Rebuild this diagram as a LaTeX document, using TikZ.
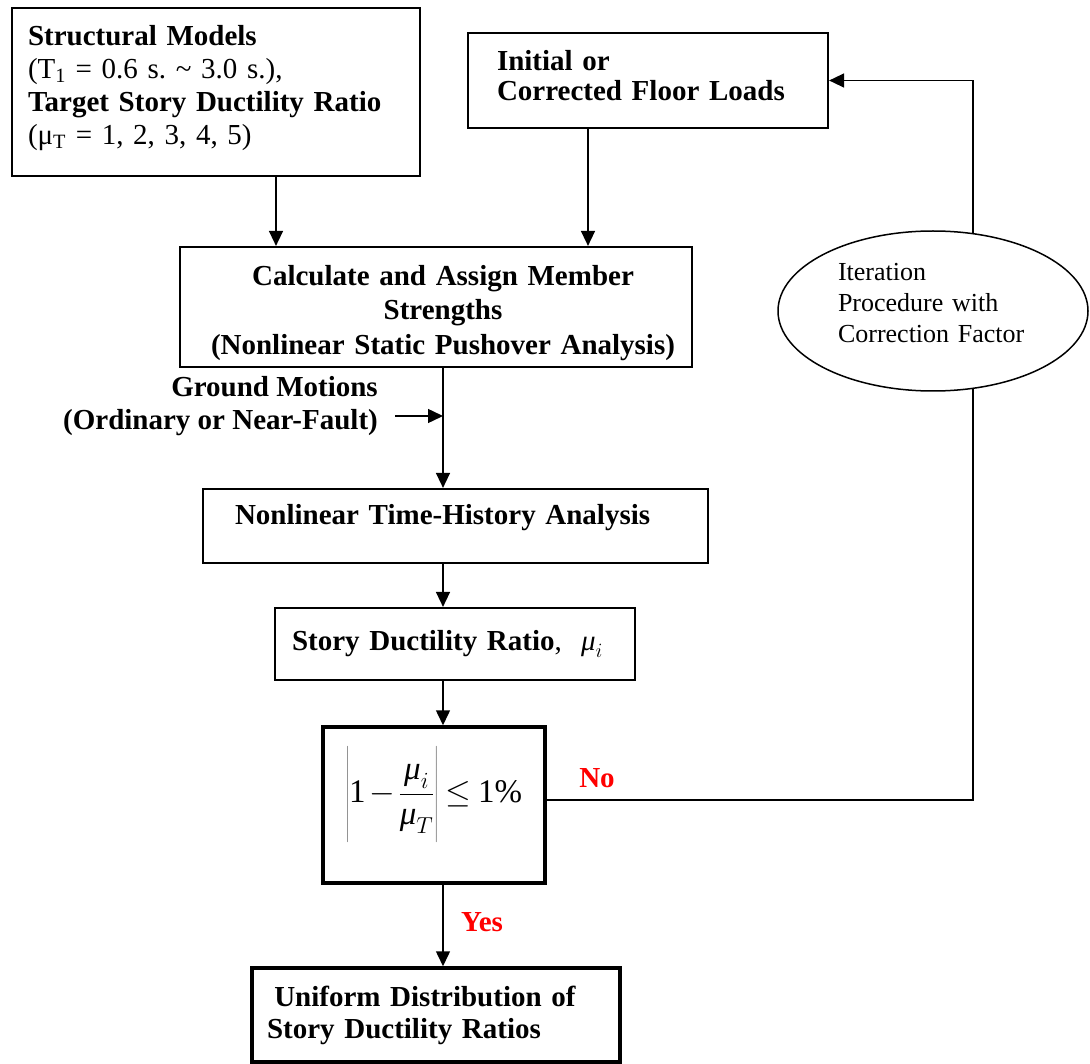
\documentclass[tikz,border=0pt]{standalone}
\usepackage{fix-cm}
\usepackage{fontspec}
\setmainfont{Liberation Serif}
\usetikzlibrary{arrows.meta,shapes.geometric}
\newcommand\mmu{\mbox{\itshape μ}}
\frenchspacing
\begin{document}
\begin{tikzpicture}[x=1pt,y=-1pt,
  txt/.style={font=\fontsize{29}{33.5}\selectfont},
  box/.style={txt,draw,line width=2.2pt,rectangle,inner sep=0pt},
  thickbox/.style={box,line width=3.5pt},
  ln/.style={line width=1.5pt},
  arr/.style={line width=1.5pt,-{Triangle[length=15pt,width=14pt]}},
  redlbl/.style={font=\fontsize{29}{33.5}\selectfont\bfseries,text=red,inner sep=0pt}
]
\useasboundingbox (0,0) rectangle (1090,1064);

\node[box,minimum width=408pt,minimum height=168pt,text width=376pt,align=left,
      font=\fontsize{29}{33}\selectfont,text height=20pt,text depth=112.8pt] (modl) at (216,92)
  {\textbf{Structural Models}\\
   (T\textsubscript{1} = 0.6 s. \textasciitilde{} 3.0 s.),\\
   \textbf{Target Story Ductility Ratio}\\
   (μ\textsubscript{T} = 1, 2, 3, 4, 5)};

\node[box,minimum width=360pt,minimum height=95pt,text width=302pt,align=left,
      font=\fontsize{29}{30}\selectfont\bfseries,text height=20pt,text depth=39pt] (loads) at (648,80.5)
  {Initial or\\Corrected Floor Loads};

\node[box,minimum width=512pt,minimum height=120pt,text width=500pt,align=center,
      font=\fontsize{29}{34.5}\selectfont\bfseries,text height=20pt,text depth=63.2pt] (calc) at (436,307)
  {\hspace*{14pt}Calculate and Assign Member\\\hspace*{14pt}Strengths\\\hspace*{14pt}(Nonlinear Static Pushover Analysis)};

\node[draw,ellipse,line width=1.5pt,inner sep=0pt,minimum width=310pt,minimum height=160pt,
      text width=190pt,align=left,font=\fontsize{26}{31}\selectfont,text height=20pt,text depth=80pt] (iter) at (933,311)
  {Iteration\\Procedure with\\Correction Factor};

\coordinate (spine) at (443,0);

\node[font=\fontsize{29}{33.5}\selectfont\bfseries,align=right,anchor=east,inner sep=0pt] (gm) at (378,406)
  {Ground Motions\\(Ordinary or Near-Fault)};
\coordinate (gmtail) at (395,416);

\node[box,minimum width=505pt,minimum height=74pt,text width=441pt,align=left,text height=20pt,text depth=22.8pt,
      font=\fontsize{29}{33.5}\selectfont\bfseries] (nth) at (455.5,526)
  {Nonlinear Time-History Analysis};

\node[box,minimum width=360pt,minimum height=72pt,text width=326pt,align=left] (sdr) at (455,644)
  {\textbf{Story Ductility Ratio},~~$\mmu_i$};

\node[thickbox,minimum width=222pt,minimum height=156pt,font=\fontsize{33}{36}\selectfont,
      text height=40pt,text depth=45.4pt] (cond) at (434,805)
  {\medmuskip=2mu\thickmuskip=4mu$\displaystyle\left|\vcenter{\hbox{\rule{0pt}{98pt}}}\mbox{1}-\frac{\mmu_i}{\mmu_T}\right|\le\mbox{1\%}$};

\node[thickbox,minimum width=368pt,minimum height=94pt,text width=338pt,align=left,
      font=\fontsize{29}{32}\selectfont\bfseries] (final) at (436,1015)
  {\hspace*{0.25em}Uniform Distribution of\\Story Ductility Ratios};

\node[redlbl] (no) at (597,778) {No};
\node[redlbl] (yes) at (482,922) {Yes};

% connectors
\draw[arr] ([xshift=60pt]modl.south) -- ([xshift=60pt]modl.south |- calc.north);
\draw[arr] ([xshift=-60pt]loads.south) -- ([xshift=-60pt]loads.south |- calc.north);
\draw[arr] (calc.south -| spine) -- (nth.north -| spine);
\draw[arr] (gmtail) -- (gmtail -| spine);
\draw[arr] (nth.south -| spine) -- (sdr.north -| spine);
\draw[arr] (sdr.south -| spine) -- (cond.north -| spine);
\draw[arr] (cond.south -| spine) -- (final.north -| spine);
\draw[ln] ([yshift=5pt]cond.east) -- ([yshift=5pt]cond.east -| iter.-63) -- (iter.-63);
\draw[arr] (iter.63) -- (iter.63 |- loads.east) -- (loads.east);
\end{tikzpicture}
\end{document}
